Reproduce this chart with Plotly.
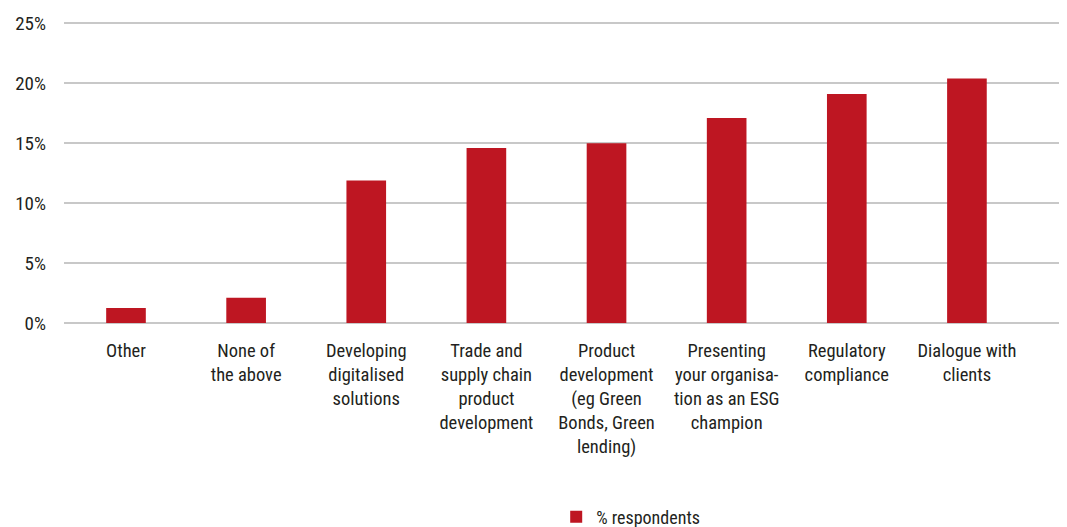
import plotly.graph_objects as go

categories = [
    "Other",
    "None of<br>the above",
    "Developing<br>digitalised<br>solutions",
    "Trade and<br>supply chain<br>product<br>development",
    "Product<br>development<br>(eg Green<br>Bonds, Green<br>lending)",
    "Presenting<br>your organisa-<br>tion as an ESG<br>champion",
    "Regulatory<br>compliance",
    "Dialogue with<br>clients",
]
values = [1.25, 2.1, 11.9, 14.6, 15.0, 17.1, 19.1, 20.4]
series_name = "% respondents"
tick_vals = [0, 5, 10, 15, 20, 25]
tick_text = ["0%", "5%", "10%", "15%", "20%", "25%"]

FONT = "Roboto Condensed, Liberation Sans Narrow, Arial Narrow, sans-serif"
RED = "#BE1622"
TXT = "#231f20"

fig = go.Figure()
fig.add_trace(go.Bar(
    x=categories,
    y=values,
    name=series_name,
    marker=dict(color=RED, line=dict(width=0)),
    width=0.33,
    showlegend=True,
))

fig.update_layout(
    width=1067,
    height=527,
    paper_bgcolor="white",
    plot_bgcolor="white",
    margin=dict(l=56, r=8, t=13, b=212),
    font=dict(family=FONT, size=18, color=TXT),
    showlegend=True,
    legend=dict(
        orientation="h",
        xref="container", yref="container",
        x=0.5836, xanchor="center",
        y=0.034, yanchor="middle",
        font=dict(family=FONT, size=18, color=TXT),
    ),
    xaxis=dict(
        type="category",
        range=[-0.516, 7.833],
        showgrid=False,
        showline=False,
        ticks="",
        tickangle=0,
        ticklabelstandoff=14,
        tickfont=dict(family=FONT, size=18.5, color=TXT),
        automargin=False,
    ),
    yaxis=dict(
        range=[0, 25.2],
        tickvals=tick_vals,
        ticktext=tick_text,
        showgrid=True,
        gridcolor="#c8c8c8",
        gridwidth=2,
        zeroline=True,
        zerolinecolor="#c8c8c8",
        zerolinewidth=2,
        showline=False,
        ticks="",
        ticklabelstandoff=17,
        tickfont=dict(family=FONT, size=19, color=TXT),
        automargin=False,
    ),
)

fig.write_html("out.html")
